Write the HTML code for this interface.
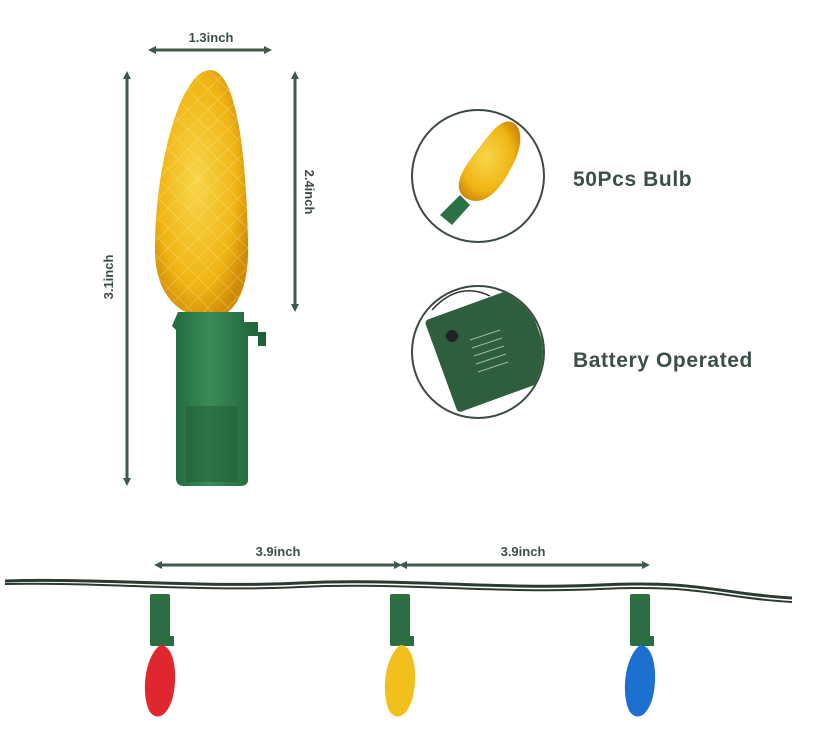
<!DOCTYPE html><html><head><style>body{margin:0;background:#fff}svg{display:block}text{font-family:"Liberation Sans",sans-serif;font-weight:bold;fill:#3d4f44}</style></head><body>
<svg width="829" height="734" viewBox="0 0 829 734">
<defs>
<marker id="a" markerWidth="8" markerHeight="8" refX="4" refY="4" orient="auto-start-reverse" markerUnits="userSpaceOnUse"><path d="M0,0 L8,4 L0,8z" fill="#3f5a4a"/></marker>
<radialGradient id="y" cx="45%" cy="45%" r="60%"><stop offset="0" stop-color="#f7d54a"/><stop offset="0.7" stop-color="#f0b514"/><stop offset="1" stop-color="#d08a08"/></radialGradient>
<linearGradient id="g" x1="0" x2="1"><stop offset="0" stop-color="#1f6a3c"/><stop offset="0.4" stop-color="#3b8a58"/><stop offset="1" stop-color="#1b5e35"/></linearGradient>
<pattern id="d" width="14" height="14" patternUnits="userSpaceOnUse" patternTransform="rotate(45)"><path d="M0,0H14M0,0V14" stroke="#fff3a0" stroke-opacity=".35" stroke-width="1.5"/></pattern>
<clipPath id="c2"><circle cx="478" cy="352" r="65"/></clipPath>
</defs>
<g stroke="#3f5a4a" stroke-width="3" fill="none">
<line x1="152" y1="50" x2="268" y2="50" marker-start="url(#a)" marker-end="url(#a)"/>
<line x1="127" y1="75" x2="127" y2="482" marker-start="url(#a)" marker-end="url(#a)"/>
<line x1="295" y1="75" x2="295" y2="308" marker-start="url(#a)" marker-end="url(#a)"/>
<line x1="158" y1="565" x2="398" y2="565" marker-start="url(#a)" marker-end="url(#a)"/>
<line x1="403" y1="565" x2="646" y2="565" marker-start="url(#a)" marker-end="url(#a)"/>
</g>
<text x="211" y="42" font-size="13" text-anchor="middle">1.3inch</text>
<text transform="translate(113,277) rotate(-90)" font-size="13" text-anchor="middle">3.1inch</text>
<text transform="translate(305,192) rotate(90)" font-size="13" text-anchor="middle">2.4inch</text>
<text x="278" y="556" font-size="13" text-anchor="middle">3.9inch</text>
<text x="523" y="556" font-size="13" text-anchor="middle">3.9inch</text>
<path d="M210,70 C236,70 246,150 248,240 C250,290 235,318 210,318 C185,318 155,300 155,250 C155,160 182,70 210,70Z" fill="url(#y)"/>
<path d="M210,70 C236,70 246,150 248,240 C250,290 235,318 210,318 C185,318 155,300 155,250 C155,160 182,70 210,70Z" fill="url(#d)"/>
<path d="M178,312 H244 V322 H258 V332 H266 V346 H258 V336 H248 V480 Q248,486 240,486 H184 Q176,486 176,478 V330 L172,326 Z" fill="url(#g)"/>
<rect x="186" y="406" width="52" height="76" fill="#1d5c34" opacity=".5"/>
<circle cx="478" cy="176" r="66" fill="#fff" stroke="#3c4a40" stroke-width="2"/>
<path d="M505,122 C520,118 528,140 510,170 C500,190 485,205 470,200 C455,195 455,180 470,160 C485,140 495,125 505,122Z" fill="url(#y)"/>
<path d="M460,195 L470,205 L452,225 L440,215Z" fill="#2a7246"/>
<circle cx="478" cy="352" r="66" fill="#fff" stroke="#3c4a40" stroke-width="2"/>
<g clip-path="url(#c2)">
<path d="M432,310 C450,290 470,286 490,296" stroke="#333" fill="none" stroke-width="1.5"/>
<rect x="438" y="300" width="104" height="98" rx="4" transform="rotate(-20 490 349)" fill="#2e5e3e"/>
<circle cx="452" cy="336" r="6" fill="#222"/>
<g stroke="#9fb8a6" stroke-width="1"><line x1="470" y1="340" x2="500" y2="330"/><line x1="472" y1="348" x2="502" y2="338"/><line x1="474" y1="356" x2="504" y2="346"/><line x1="476" y1="364" x2="506" y2="354"/><line x1="478" y1="372" x2="508" y2="362"/></g>
</g>
<text x="573" y="186" font-size="21" letter-spacing="0.6">50Pcs Bulb</text>
<text x="573" y="367" font-size="21" letter-spacing="0.6">Battery Operated</text>
<path d="M5,581 C100,578 200,588 300,583 S500,590 600,585 S720,594 792,598" stroke="#2c3a30" stroke-width="3" fill="none"/>
<path d="M5,584 C100,582 200,592 300,587 S500,594 600,589 S720,598 792,602" stroke="#2c3a30" stroke-width="2" fill="none"/>
<rect x="150" y="594" width="20" height="52" rx="2" fill="#2a6e42"/><rect x="168" y="636" width="6" height="10" fill="#2a6e42"/>
<path d="M160,645 C176,645 178,680 172,700 C166,718 156,720 150,712 C142,700 142,660 160,645Z" fill="#e0262e"/>
<rect x="390" y="594" width="20" height="52" rx="2" fill="#2a6e42"/><rect x="408" y="636" width="6" height="10" fill="#2a6e42"/>
<path d="M400,645 C416,645 418,680 412,700 C406,718 396,720 390,712 C382,700 382,660 400,645Z" fill="#f2c01c"/>
<rect x="630" y="594" width="20" height="52" rx="2" fill="#2a6e42"/><rect x="648" y="636" width="6" height="10" fill="#2a6e42"/>
<path d="M640,645 C656,645 658,680 652,700 C646,718 636,720 630,712 C622,700 622,660 640,645Z" fill="#1d6fd0"/>
</svg></body></html>
